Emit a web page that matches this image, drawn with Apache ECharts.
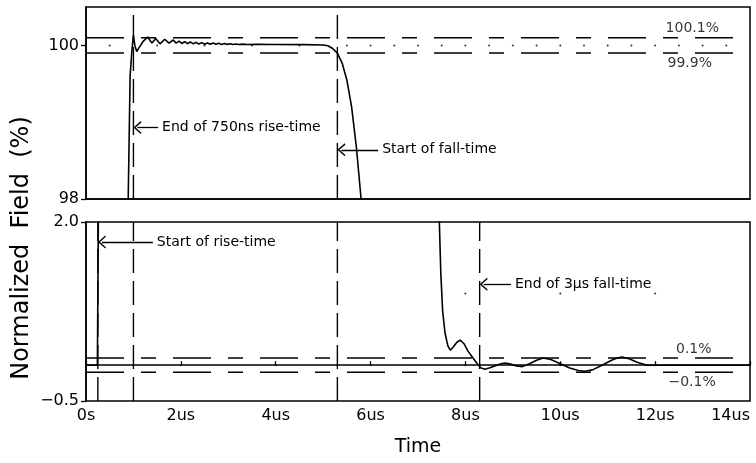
<!DOCTYPE html>
<html><head><meta charset="utf-8">
<script src="https://cdn.jsdelivr.net/npm/echarts/dist/echarts.min.js"></script>
<style>html,body{margin:0;padding:0;background:#fff}#c{width:756px;height:463px}</style>
</head><body><div id="c"></div>
<script>
// ---- data (time in microseconds, normalized field in %) ----
const timeUs = [0, 0.24, 0.25, 0.27, 0.4, 0.6, 0.8, 0.89, 0.93, 0.97, 1.0, 1.03, 1.07, 1.13, 1.2, 1.3,
  1.39, 1.47, 1.56, 1.66, 1.75, 1.84, 1.90, 1.96, 2.02, 2.08, 2.14, 2.20, 2.26, 2.32, 2.38, 2.44, 2.50,
  2.56, 2.62, 2.68, 2.74, 2.80, 2.86, 2.92, 2.98, 3.04, 3.10, 3.16, 3.22, 3.30, 3.40, 3.6, 4.0, 4.6,
  5.0, 5.1, 5.2, 5.3, 5.4, 5.5, 5.6, 5.7, 5.8, 5.9, 6.1, 6.5, 7.0, 7.3, 7.4, 7.45, 7.48, 7.52, 7.57,
  7.63, 7.68, 7.74, 7.82, 7.89, 7.97, 8.05, 8.16, 8.25, 8.33, 8.41, 8.5, 8.62, 8.75, 8.84, 8.95, 9.08,
  9.2, 9.35, 9.5, 9.64, 9.8, 10.0, 10.2, 10.38, 10.52, 10.68, 10.88, 11.08, 11.2, 11.3, 11.45, 11.62,
  11.83, 12.0, 14.0];
const fieldPct = [0, 0, 1, 3, 25, 70, 93, 98, 99.6, 99.95, 100.13, 100.0, 99.92, 99.98, 100.05, 100.11,
  100.03, 100.09, 100.02, 100.08, 100.03, 100.07, 100.03, 100.055, 100.025, 100.05, 100.022, 100.045,
  100.02, 100.04, 100.018, 100.036, 100.016, 100.032, 100.015, 100.03, 100.014, 100.027, 100.013,
  100.024, 100.013, 100.021, 100.012, 100.018, 100.012, 100.016, 100.012, 100.013, 100.012, 100.01,
  100.005, 99.995, 99.96, 99.9, 99.77, 99.55, 99.2, 98.68, 98.0, 96.8, 90, 70, 30, 8, 3.0, 2.0, 1.3,
  0.75, 0.45, 0.27, 0.21, 0.25, 0.32, 0.35, 0.3, 0.2, 0.1, 0.02, -0.04, -0.056, -0.04, -0.01, 0.02, 0.03,
  0.015, -0.01, -0.02, 0.02, 0.07, 0.1, 0.08, 0.02, -0.04, -0.075, -0.085, -0.065, 0.0, 0.07, 0.1,
  0.115, 0.09, 0.04, 0.0, 0.0, 0.0];
const xTickValues = [0, 2, 4, 6, 8, 10, 12, 14];
const xTickLabels = ['0s', '2us', '4us', '6us', '8us', '10us', '12us', '14us'];
const topTolerance = [100.1, 99.9];
const topToleranceLabels = ['100.1%', '99.9%'];
const topToleranceLabelX = [12.22, 12.26];
const bottomTolerance = [0.1, -0.1];
const bottomToleranceLabels = ['0.1%', '\u22120.1%'];
const bottomToleranceLabelX = [12.44, 12.28];
const topMarkers = [1.0, 5.3];
const bottomMarkers = [0.25, 1.0, 5.3, 8.3];
const annotationsTop = [
  {x: 1.0, y: 98.93, xEnd: 1.52, text: 'End of 750ns rise-time'},
  {x: 5.3, y: 98.64, xEnd: 6.16, text: 'Start of fall-time'}
];
const annotationsBottom = [
  {x: 0.25, y: 1.72, xEnd: 1.41, text: 'Start of rise-time'},
  {x: 8.3, y: 1.13, xEnd: 8.96, text: 'End of 3\u00b5s fall-time'}
];
const dotTopX = [0.5, 1.5, 2.5, 3.5, 4.5, 5.5, 6, 6.5, 7, 7.5, 8, 8.5, 9, 9.5, 10, 10.5, 11, 11.5, 12, 12.5, 13, 13.5];
const dotTopY = 100;
const dotBottomX0 = [2, 4, 6, 8, 10, 12];
const dotBottomX1 = [8, 10, 12];

// ---- chart ----
const FONT = 'DejaVu Sans';
const wave = timeUs.map((t, i) => [t, fieldPct[i]]);
const chevron = 'path://M0,10 L5,0 L10,10 L9,10.9 L5,2.9 L1,10.9 Z';
const series = [];
function addWave(idx) {
  series.push({type: 'line', xAxisIndex: idx, yAxisIndex: idx, data: wave, symbol: 'none', clip: true,
    lineStyle: {color: '#000', width: 1.6}, silent: true, z: 5});
}
addWave(0); addWave(1);
function addTol(idx, vals, labels, lx) {
  vals.forEach((v, i) => {
    series.push({type: 'line', xAxisIndex: idx, yAxisIndex: idx, data: [[0, v], [14, v]], symbol: 'none',
      lineStyle: {color: '#000', width: 1.5, type: [38, 17, 15, 17]}, silent: true, z: 3});
    series.push({type: 'scatter', xAxisIndex: idx, yAxisIndex: idx, data: [[lx[i], v]], symbolSize: 0,
      label: {show: true, formatter: labels[i], position: 'right', distance: 0,
        offset: [0, i === 0 ? -9 : 10], color: '#000', fontFamily: FONT, fontSize: 14}, silent: true});
  });
}
addTol(0, topTolerance, topToleranceLabels, topToleranceLabelX);
addTol(1, bottomTolerance, bottomToleranceLabels, bottomToleranceLabelX);
function addMarkers(idx, xs, y0, y1) {
  xs.forEach(x => series.push({type: 'line', xAxisIndex: idx, yAxisIndex: idx, data: [[x, y0], [x, y1]],
    symbol: 'none', lineStyle: {color: '#000', width: 1.4, type: [24, 8]}, silent: true, z: 4}));
}
addMarkers(0, topMarkers, 98, 100.5);
addMarkers(1, bottomMarkers, -0.5, 2.0);
function addAnn(idx, anns) {
  series.push({type: 'line', xAxisIndex: idx, yAxisIndex: idx, data: [], silent: true,
    markLine: {silent: true, symbol: [chevron, 'none'], symbolSize: [13, 8],
      lineStyle: {color: '#000', width: 1.3, type: 'solid'},
      label: {show: true, position: 'end', distance: 4, color: '#000', fontFamily: FONT, fontSize: 14},
      data: anns.map(a => [{coord: [a.x + 0.085, a.y], label: {formatter: a.text}}, {coord: [a.xEnd, a.y]}])}});
}
addAnn(0, annotationsTop);
addAnn(1, annotationsBottom);
function addDots(idx, pts) {
  series.push({type: 'scatter', xAxisIndex: idx, yAxisIndex: idx, data: pts, symbolSize: 2,
    itemStyle: {color: '#000'}, silent: true});
}
addDots(0, dotTopX.map(x => [x, dotTopY]));
addDots(1, dotBottomX0.map(x => [x, 0]).concat(dotBottomX1.map(x => [x, 1])));

const axisLineStyle = {show: true, lineStyle: {color: '#000', width: 1.5}};
const option = {
  animation: false,
  backgroundColor: '#fff',
  grid: [
    {left: 86, right: 6, top: 7, height: 192, show: true, borderColor: '#000', borderWidth: 1.5,
      outerBoundsMode: 'none', containLabel: false},
    {left: 86, right: 6, top: 222, height: 179, show: true, borderColor: '#000', borderWidth: 1.5,
      outerBoundsMode: 'none', containLabel: false}
  ],
  xAxis: [
    {gridIndex: 0, type: 'value', min: 0, max: 14, interval: 2, axisLine: axisLineStyle,
      axisTick: {show: false}, axisLabel: {show: false}, splitLine: {show: false}},
    {gridIndex: 1, type: 'value', min: 0, max: 14, interval: 2, axisLine: axisLineStyle,
      axisTick: {show: true, inside: true, length: 4, lineStyle: {color: '#000', width: 1.3}},
      axisLabel: {color: '#000', fontFamily: FONT, fontSize: 16, margin: 7, hideOverlap: false,
        alignMaxLabel: 'right', formatter: v => xTickLabels[xTickValues.indexOf(v)]},
      splitLine: {show: false},
      name: 'Time', nameLocation: 'middle', nameGap: 37,
      nameTextStyle: {color: '#000', fontFamily: FONT, fontSize: 19}}
  ],
  yAxis: [
    {gridIndex: 0, type: 'value', min: 98, max: 100.5, interval: 2, axisLine: axisLineStyle,
      axisTick: {show: true, length: 5, lineStyle: {color: '#000', width: 1.3}},
      axisLabel: {color: '#000', fontFamily: FONT, fontSize: 16, margin: 7, showMaxLabel: false,
        formatter: v => (v === 100 || v === 98) ? String(v) : ''},
      splitLine: {show: false}},
    {gridIndex: 1, type: 'value', min: -0.5, max: 2.0, interval: 2.5, axisLine: axisLineStyle,
      axisTick: {show: true, length: 5, lineStyle: {color: '#000', width: 1.3}},
      axisLabel: {color: '#000', fontFamily: FONT, fontSize: 16, margin: 7,
        formatter: v => v.toFixed(1).replace('-', '\u2212')},
      splitLine: {show: false}}
  ],
  graphic: [{type: 'text', x: 22, y: 248, rotation: Math.PI / 2,
    style: {text: 'Normalized  Field  (%)', fill: '#000', font: '24px "DejaVu Sans"',
      textAlign: 'center', textVerticalAlign: 'middle'}}],
  series: series
};
const chart = echarts.init(document.getElementById('c'), null, {renderer: 'canvas'});
chart.setOption(option);
</script></body></html>
